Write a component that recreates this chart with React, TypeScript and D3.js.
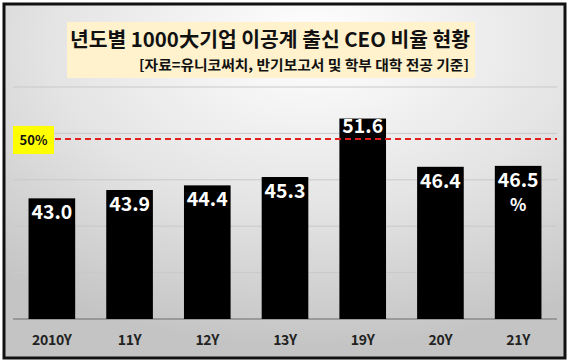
import * as d3 from 'd3'

document.body.style.margin = '0'

const years = ['2010Y', '11Y', '12Y', '13Y', '19Y', '20Y', '21Y']
const ratios = [43.0, 43.9, 44.4, 45.3, 51.6, 46.4, 46.5]
const gridTicks = [35, 40, 45, 50, 55]
const thresholdLabel = '50%'
const thresholdAt = 49.4
const title = '년도별 1000大기업 이공계 출신 CEO 비율 현황'
const subtitle = '[자료=유니코써치, 반기보고서 및 학부 대학 전공 기준]'

const W = 570
const H = 364
const KR = '"Noto Sans CJK KR", "Noto Sans", sans-serif'

export default function App() {
  const x = d3.scaleBand<string>().domain(years).range([13, 557]).paddingInner(0.4).paddingOuter(0.2)
  const y = d3.scaleLinear().domain([30, 55]).range([319, 87])
  const bw = x.bandwidth()

  return (
    <svg width={W} height={H} style={{ display: 'block' }}>
      <defs>
        <radialGradient id="bg" cx="0.55" cy="0.12" r="0.85" fx="0.55" fy="0.1">
          <stop offset="0" stopColor="#ffffff" />
          <stop offset="0.55" stopColor="#e4e4e4" />
          <stop offset="1" stopColor="#c4c4c4" />
        </radialGradient>
      </defs>
      <rect x={0} y={0} width={W} height={H} fill="#fff" />
      <rect x={4} y={4} width={561} height={354} fill="url(#bg)" stroke="#111" strokeWidth={3} />

      <rect x={67} y={22} width={408} height={56} fill="#fff2cc" />
      <text x={70} y={47} fontFamily={KR} fontWeight={700} fontSize={20} fill="#111" textLength={400} lengthAdjust="spacingAndGlyphs">{title}</text>
      <text x={139} y={70} fontFamily={KR} fontWeight={700} fontSize={14} fill="#111" textLength={330} lengthAdjust="spacingAndGlyphs">{subtitle}</text>

      {gridTicks.map((t) => (
        <line key={t} x1={13} x2={557} y1={y(t)} y2={y(t)} stroke="#c9c9c9" strokeWidth={1} />
      ))}
      <line x1={13} x2={557} y1={y(30)} y2={y(30)} stroke="#8a8a8a" strokeWidth={1.5} />

      {years.map((yr, i) => {
        const v = ratios[i]
        const x0 = x(yr) ?? 0
        const cx = x0 + bw / 2
        const top = y(v)
        const inset = v > thresholdAt ? 14 : 21
        return (
          <g key={yr}>
            <rect x={x0} y={top} width={bw} height={y(30) - top} fill="#000" />
            <text x={cx} y={top + inset} textAnchor="middle" fontFamily={KR} fontWeight={700} fontSize={19.5} fill="#fff">{v.toFixed(1)}</text>
            {i === years.length - 1 && (
              <text x={cx} y={top + 45} textAnchor="middle" fontFamily={KR} fontWeight={700} fontSize={17} fill="#fff">%</text>
            )}
            <text x={cx} y={345} textAnchor="middle" fontFamily={KR} fontWeight={700} fontSize={14} fill="#222" letterSpacing={-0.3}>{yr}</text>
          </g>
        )
      })}

      <line x1={55} x2={557} y1={y(thresholdAt)} y2={y(thresholdAt)} stroke="#e0201c" strokeWidth={2} strokeDasharray="6 4" />
      <rect x={13} y={y(thresholdAt) - 13} width={41} height={28} fill="#ffff00" />
      <text x={33.5} y={y(thresholdAt) + 6} textAnchor="middle" fontFamily={KR} fontWeight={700} fontSize={13} fill="#111">{thresholdLabel}</text>
    </svg>
  )
}
